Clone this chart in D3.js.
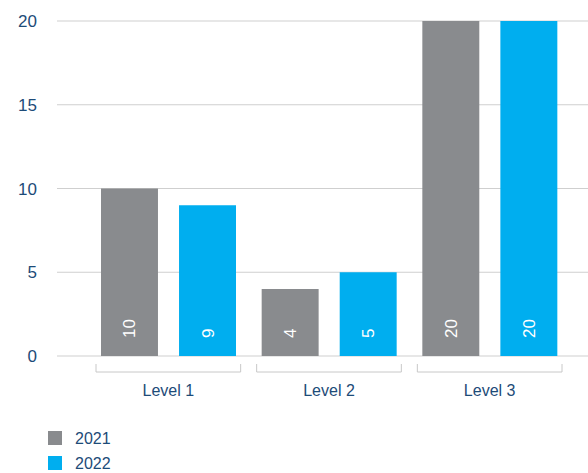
<!DOCTYPE html>
<html>
<head>
<meta charset="utf-8">
<script src="https://cdn.jsdelivr.net/npm/d3@7"></script>
<style>
  body { margin: 0; background: #fff; }
  svg { display: block; font-family: "Liberation Sans", Arial, sans-serif; }
</style>
</head>
<body>
<svg id="chart" width="588" height="473"></svg>
<script>
const categories = ["Level 1", "Level 2", "Level 3"];
const seriesNames = ["2021", "2022"];
const values2021 = [10, 4, 20];
const values2022 = [9, 5, 20];
const yTicks = [0, 5, 10, 15, 20];
const colors = ["#898b8e", "#00aeef"];

const textColor = "#1d4b78";
const svg = d3.select("#chart");

const y = d3.scaleLinear().domain([0, 20]).range([356, 21]);
const x0 = d3.scaleBand().domain(categories).range([88, 570]);
const x1 = d3.scaleBand().domain(seriesNames).range([13, 148]).paddingInner(0.27);

// gridlines + y labels
const yAxis = svg.append("g");
yAxis.selectAll("line").data(yTicks).join("line")
  .attr("x1", 57).attr("x2", 588)
  .attr("y1", d => y(d)).attr("y2", d => y(d))
  .attr("stroke", "#cfcfcf").attr("stroke-width", 1);
yAxis.selectAll("text").data(yTicks).join("text")
  .attr("x", 37).attr("y", d => y(d) + 6)
  .attr("text-anchor", "end")
  .attr("font-size", 17).attr("fill", textColor)
  .text(d => d);

const rows = categories.map((c, i) => ({
  cat: c,
  vals: [values2021[i], values2022[i]].map((v, j) => ({ key: seriesNames[j], value: v, color: colors[j] }))
}));

const groups = svg.append("g").selectAll("g").data(rows).join("g")
  .attr("transform", d => `translate(${x0(d.cat)},0)`);

groups.selectAll("rect").data(d => d.vals).join("rect")
  .attr("x", d => x1(d.key))
  .attr("width", x1.bandwidth())
  .attr("y", d => y(d.value))
  .attr("height", d => y(0) - y(d.value))
  .attr("fill", d => d.color);

groups.selectAll("text.val").data(d => d.vals).join("text")
  .attr("class", "val")
  .attr("transform", d => `translate(${x1(d.key) + x1.bandwidth() / 2 + 6},${y(0) - 18}) rotate(-90)`)
  .attr("font-size", 17).attr("fill", "#fff")
  .text(d => d.value);

// category brackets
groups.append("path")
  .attr("d", `M8,364 V372 H${x0.bandwidth() - 8} V364`)
  .attr("fill", "none").attr("stroke", "#c8c8c8").attr("stroke-width", 1);
groups.append("text")
  .attr("x", x0.bandwidth() / 2).attr("y", 396)
  .attr("text-anchor", "middle")
  .attr("font-size", 16).attr("fill", textColor)
  .text(d => d.cat);

// legend
const legend = svg.append("g").selectAll("g").data(seriesNames).join("g")
  .attr("transform", (d, i) => `translate(48,${431 + i * 25})`);
legend.append("rect").attr("width", 14).attr("height", 14).attr("fill", (d, i) => colors[i]);
legend.append("text").attr("x", 27).attr("y", 13)
  .attr("font-size", 16).attr("fill", textColor).text(d => d);
</script>
</body>
</html>
